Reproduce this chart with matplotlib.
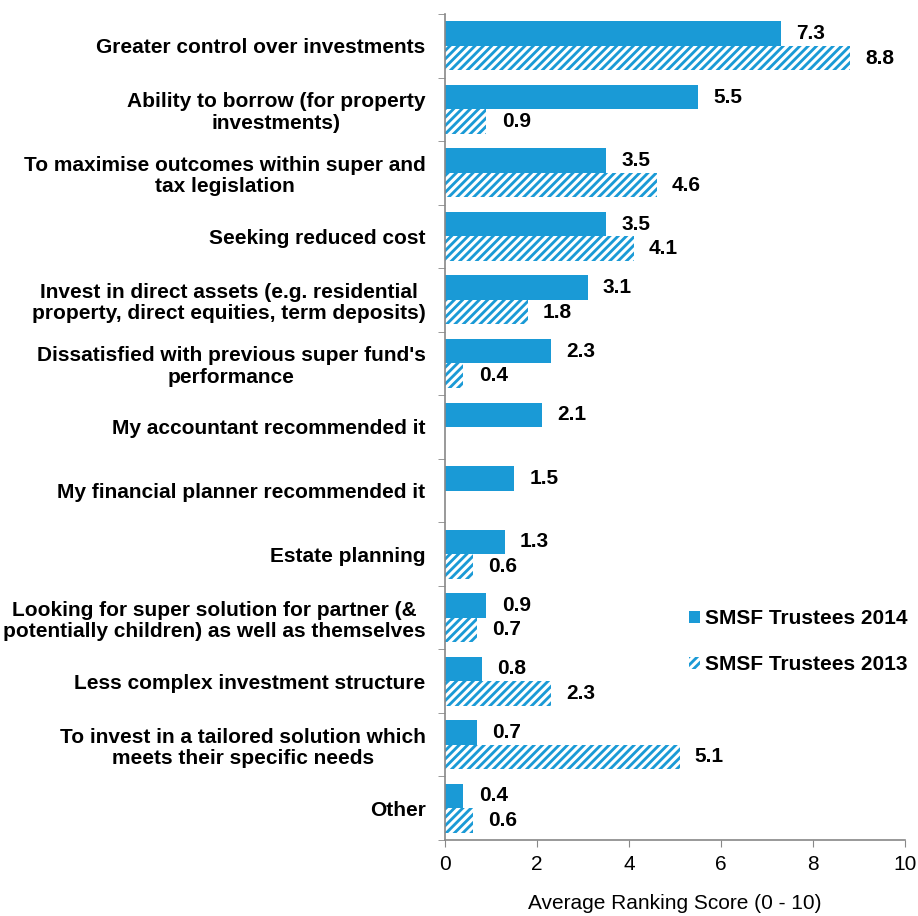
import numpy as np
import matplotlib.pyplot as plt

plt.rcParams['font.family'] = ['Liberation Sans', 'DejaVu Sans']
plt.rcParams['hatch.linewidth'] = 2.2
plt.rcParams['hatch.color'] = 'white'

categories = [
    'Greater control over investments',
    'Ability to borrow (for property\ninvestments)',
    'To maximise outcomes within super and\ntax legislation',
    'Seeking reduced cost',
    'Invest in direct assets (e.g. residential\nproperty, direct equities, term deposits)',
    "Dissatisfied with previous super fund's\nperformance",
    'My accountant recommended it',
    'My financial planner recommended it',
    'Estate planning',
    'Looking for super solution for partner (&\npotentially children) as well as themselves',
    'Less complex investment structure',
    'To invest in a tailored solution which\nmeets their specific needs',
    'Other',
]
trustees_2014 = [7.3, 5.5, 3.5, 3.5, 3.1, 2.3, 2.1, 1.5, 1.3, 0.9, 0.8, 0.7, 0.4]
trustees_2013 = [8.8, 0.9, 4.6, 4.1, 1.8, 0.4, None, None, 0.6, 0.7, 2.3, 5.1, 0.6]

blue = '#1a9ad6'
fs = 15

fig = plt.figure(figsize=(9.18, 9.16), dpi=100)
ax = fig.add_axes([0.4848, 0.0830, 0.5010, 0.9017])

n = len(categories)
y = np.arange(n)
h = 0.385

ax.barh(y - h / 2, trustees_2014, height=h, color=blue, label='SMSF Trustees 2014')
v13 = [v if v is not None else 0 for v in trustees_2013]
bars13 = ax.barh(y + h / 2, v13, height=h, color=blue, hatch='////',
                 edgecolor='white', linewidth=0, label='SMSF Trustees 2013')
for i, v in enumerate(trustees_2013):
    if v is None:
        bars13[i].set_visible(False)

for i in range(n):
    ax.annotate(f'{trustees_2014[i]:.1f}', (trustees_2014[i], y[i] - h / 2),
                xytext=(11, 0), textcoords='offset points', va='center',
                ha='left', fontsize=fs, fontweight='bold')
    if trustees_2013[i] is not None:
        ax.annotate(f'{trustees_2013[i]:.1f}', (trustees_2013[i], y[i] + h / 2),
                    xytext=(11, 0), textcoords='offset points', va='center',
                    ha='left', fontsize=fs, fontweight='bold')

ax.set_ylim(n - 0.5, -0.5)
ax.set_xlim(0, 10)
ax.set_yticks(y)
ax.set_yticklabels(categories, fontsize=fs, fontweight='bold', ha='right',
                   multialignment='center', linespacing=1.15)
ax.set_yticks(np.arange(-0.5, n, 1), minor=True)
ax.tick_params(axis='y', which='major', length=0, pad=14)
ax.tick_params(axis='y', which='minor', length=5, color='#888888', direction='out')
ax.set_xticks([0, 2, 4, 6, 8, 10])
ax.tick_params(axis='x', length=5, color='#888888', labelsize=fs, pad=6)
ax.set_xlabel('Average Ranking Score (0 - 10)', fontsize=fs, labelpad=14)

for s in ['top', 'right']:
    ax.spines[s].set_visible(False)
for s in ['left', 'bottom']:
    ax.spines[s].set_color('#888888')
    ax.spines[s].set_linewidth(1.2)

ax.legend(loc='center left', bbox_to_anchor=(0.49, 0.24), frameon=False,
          prop={'size': fs, 'weight': 'bold'}, handlelength=0.5,
          handleheight=0.55, handletextpad=0.25, labelspacing=1.3)

fig.savefig('out.png', dpi=100)
